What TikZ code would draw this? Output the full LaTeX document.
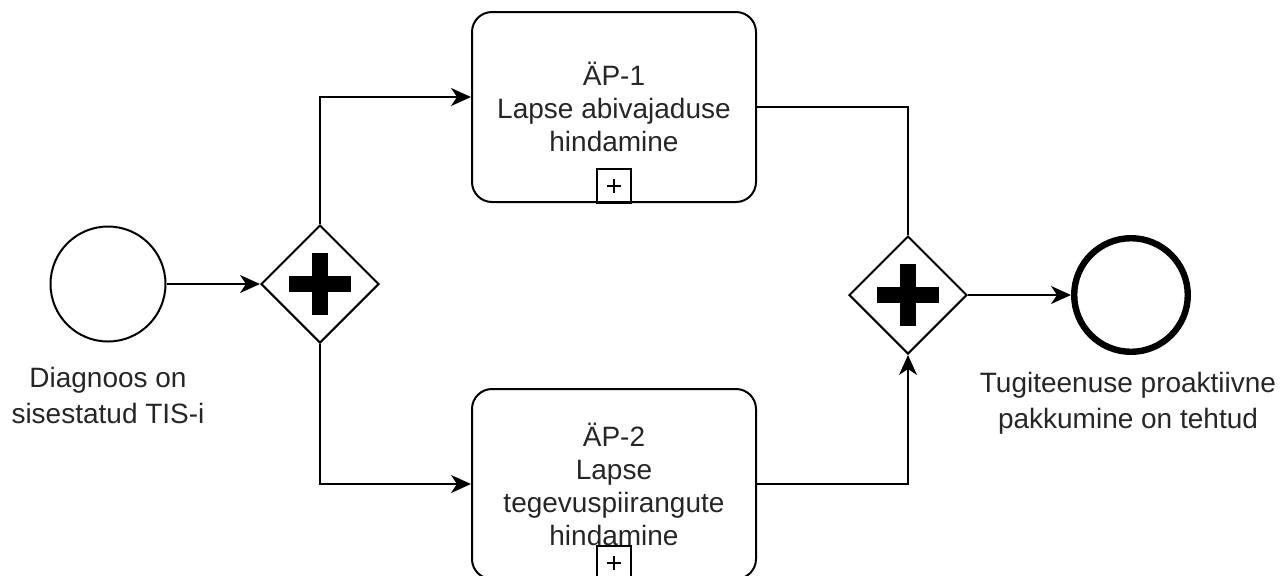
\documentclass[tikz,border=0pt]{standalone}
\usepackage{fontspec}
\setmainfont{Liberation Sans}
\usetikzlibrary{shapes.geometric,arrows.meta,calc}
\begin{document}
\begin{tikzpicture}[x=0.5pt,y=-0.5pt,
  flow/.style={line width=1pt, -{Stealth[length=10pt,width=9pt,inset=3pt]}},
  plainflow/.style={line width=1pt},
  evstart/.style={circle, draw, line width=1pt, minimum size=57.5pt, inner sep=0pt},
  evend/.style={circle, draw, line width=3.2pt, minimum size=56.8pt, inner sep=0pt},
  gw/.style={diamond, draw, line width=1pt, minimum width=59pt, minimum height=59pt, inner sep=0pt, aspect=1},
  task/.style={rectangle, rounded corners=10pt, draw, line width=1pt, minimum width=142pt, minimum height=95pt, inner sep=0pt, align=center, text=black!85, font=\fontsize{14}{16.5}\selectfont},
  lbl/.style={align=center, inner sep=0pt, text=black!85, font=\fontsize{14}{18}\selectfont}
]
\useasboundingbox (0,0) rectangle (1281,575);

% events
\node[evstart] (s) at (108,284) {};
\node[evend] (e) at (1131,295) {};
\node[lbl] (sl) at (108,395) {Diagnoos on\\sisestatud TIS-i};
\node[lbl] (el) at (1128,403) {Tugiteenuse proaktiivne\\pakkumine on tehtud};

% parallel gateways
\node[gw] (g1) at (320,284) {};
\node[gw] (g2) at (908,295) {};
\foreach \g in {g1,g2}{
  \fill ($(\g)+(-31,-8)$) rectangle ($(\g)+(31,8)$);
  \fill ($(\g)+(-8,-31)$) rectangle ($(\g)+(8,31)$);
}

% sub-process tasks
\node[task] (t1) at (614,107) {ÄP-1\\Lapse abivajaduse\\hindamine};
\node[task] (t2) at (614,484) {ÄP-2\\Lapse\\tegevuspiirangute\\hindamine};
\foreach \t in {t1,t2}{
  \draw[line width=1pt] ($(\t.south)+(-17,0)$) rectangle ($(\t.south)+(17,-34)$);
  \draw[line width=1pt] ($(\t.south)+(-7,-17)$) -- ($(\t.south)+(7,-17)$);
  \draw[line width=1pt] ($(\t.south)+(0,-24)$) -- ($(\t.south)+(0,-10)$);
}

% sequence flows
\draw[flow] (s.east) -- (g1.west);
\draw[flow] (g1.north) |- ($(t1.west)+(0,-10)$);
\draw[flow] (g1.south) |- (t2.west);
\draw[plainflow] (t1.east) -| (g2.north);
\draw[flow] (t2.east) -| (g2.south);
\draw[flow] (g2.east) -- (e.west);
\end{tikzpicture}
\end{document}
